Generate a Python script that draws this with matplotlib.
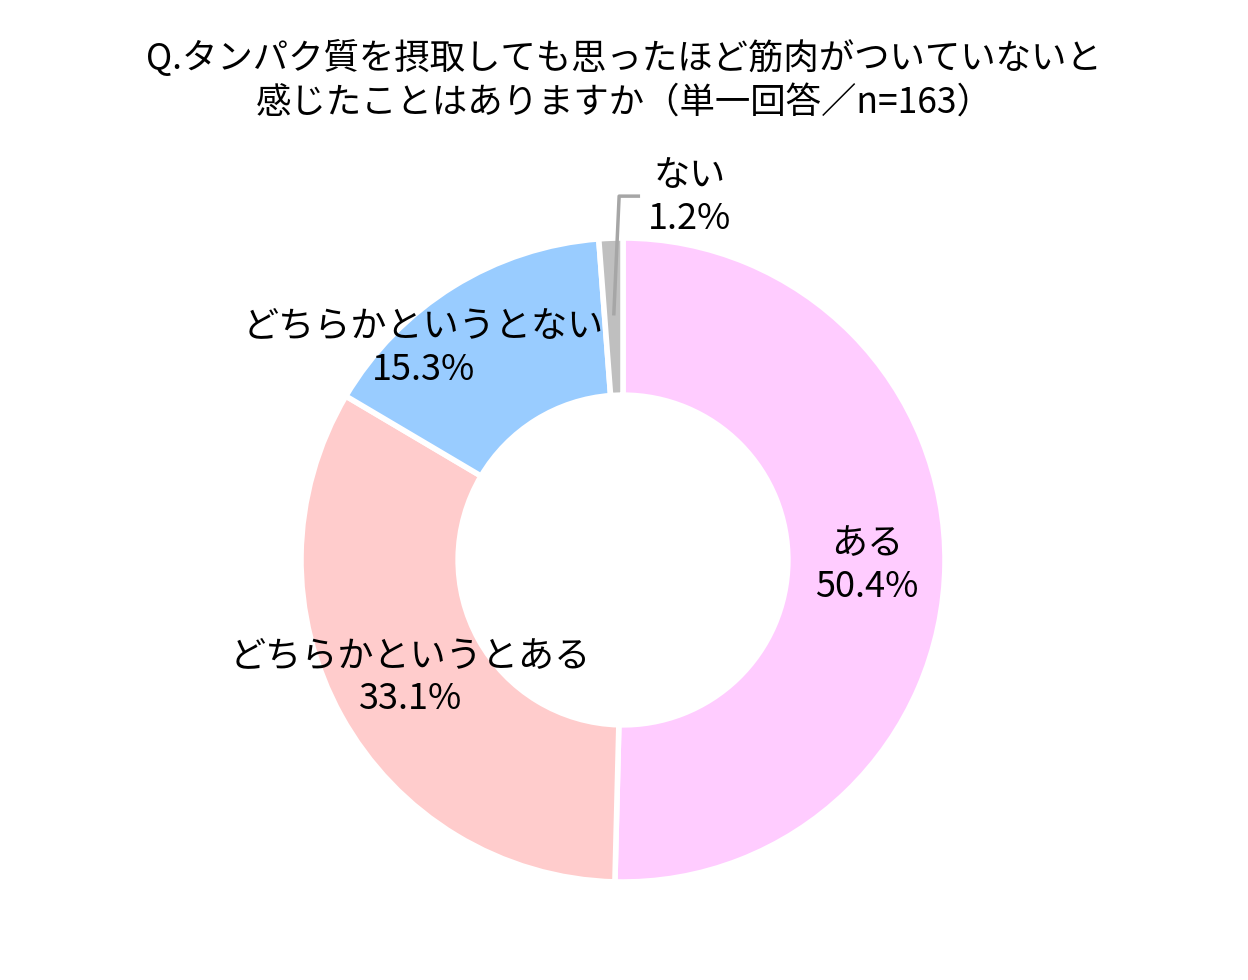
import numpy as np
import matplotlib
matplotlib.use("Agg")
import matplotlib.pyplot as plt

plt.rcParams['font.family'] = ['Noto Sans CJK JP', 'DejaVu Sans']

# ----------------------------
# Data
# ----------------------------
labels = ["ある", "どちらかというとある", "どちらかというとない", "ない"]
values = [50.4, 33.1, 15.3, 1.2]
colors = ["#FFCCFF", "#FFCCCC", "#99CCFF", "#BFBFBF"]
title = "Q.タンパク質を摂取しても思ったほど筋肉がついていないと\n感じたことはありますか（単一回答／n=163）"

# label positions (axes data units, radius = 1)
label_pos = [(0.758, -0.016), (-0.661, -0.366), (-0.621, 0.658), (0.208, 1.127)]

# ----------------------------
# Layout
# ----------------------------
W, H = 1248, 980
cx, cy, R = 623, 560, 322
fig = plt.figure(figsize=(W / 100, H / 100), dpi=100)
ax = fig.add_axes([0, 0, 1, 1])
ax.axis("off")

wedges, _ = ax.pie(
    values, colors=colors, startangle=90, counterclock=False, radius=1,
    wedgeprops=dict(width=0.488, edgecolor="white", linewidth=4),
)
ax.set_xlim(-cx / R, (W - cx) / R)
ax.set_ylim(-(H - cy) / R, cy / R)
ax.set_aspect("auto")

for lab, v, (x, y) in zip(labels, values, label_pos):
    ax.text(x, y, f"{lab}\n{v:.1f}%", ha="center", va="center",
            fontsize=26, linespacing=1.25, color="black")

# leader line for the small slice
mid = np.deg2rad(90 + 360 * values[3] / 200)
x0, y0 = np.cos(mid) * 0.76, np.sin(mid) * 0.76
ax.plot([x0, -0.012, 0.053], [y0, 1.130, 1.130], color="#A6A6A6", lw=2.5,
        solid_capstyle="butt")

fig.text(0.5, 0.918, title, ha="center", va="center", fontsize=25.5,
         linespacing=1.25)

fig.savefig("out.png", dpi=100)
